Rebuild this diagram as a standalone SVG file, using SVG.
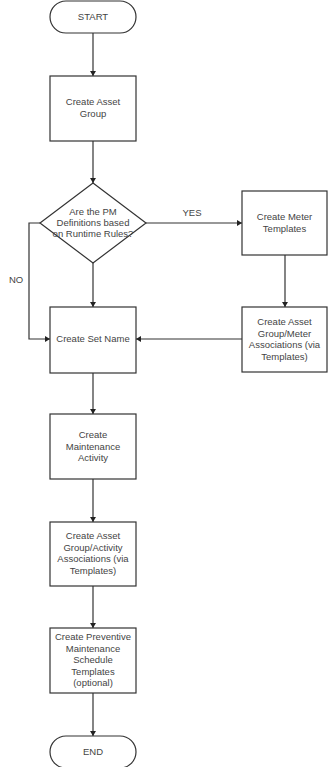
<svg xmlns="http://www.w3.org/2000/svg" width="328" height="767" viewBox="0 0 328 767">
<style>
.box{fill:#fff;stroke:#333;stroke-width:1.2}
.t{font-family:"Liberation Sans",Arial,sans-serif;font-size:9.5px;fill:#444;text-anchor:middle}
.c{fill:none;stroke:#333;stroke-width:1.2}
</style>
<defs>
<marker id="ah" markerWidth="6" markerHeight="6" refX="5" refY="3" orient="auto" markerUnits="userSpaceOnUse">
<path d="M0,0 L5,3 L0,6 Z" fill="#222"/>
</marker>
</defs>
<rect width="328" height="767" fill="#fff"/>
<g id="connectors">
<path class="c" d="M93,33 V76" marker-end="url(#ah)"/>
<path class="c" d="M93,141 V183" marker-end="url(#ah)"/>
<path class="c" d="M146,223 H242" marker-end="url(#ah)"/>
<path class="c" d="M285,255 V307" marker-end="url(#ah)"/>
<path class="c" d="M242,339 H136" marker-end="url(#ah)"/>
<path class="c" d="M93,263 V307" marker-end="url(#ah)"/>
<path class="c" d="M40,223 H29 V339 H50" marker-end="url(#ah)"/>
<path class="c" d="M93,373 V414" marker-end="url(#ah)"/>
<path class="c" d="M93,479 V522" marker-end="url(#ah)"/>
<path class="c" d="M93,586 V628" marker-end="url(#ah)"/>
<path class="c" d="M93,693 V736" marker-end="url(#ah)"/>
<text class="t" x="192" y="216">YES</text>
<text class="t" x="16" y="283">NO</text>
</g>
<g id="start">
<rect class="box" x="50" y="1" width="86" height="32" rx="16"/>
<text class="t" x="93" y="20">START</text>
</g>
<g id="asset-group">
<rect class="box" x="50" y="76" width="86" height="65"/>
<text class="t" x="93" y="105">Create Asset</text>
<text class="t" x="93" y="117">Group</text>
</g>
<g id="decision">
<polygon class="box" points="93,183 146,223 93,263 40,223"/>
<text class="t" x="93" y="215">Are the PM</text>
<text class="t" x="93" y="226">Definitions based</text>
<text class="t" x="93" y="237">on Runtime Rules?</text>
</g>
<g id="meter-templates">
<rect class="box" x="242" y="191" width="85" height="64"/>
<text class="t" x="284.5" y="220">Create Meter</text>
<text class="t" x="284.5" y="232">Templates</text>
</g>
<g id="meter-assoc">
<rect class="box" x="242" y="307" width="85" height="65"/>
<text class="t" x="284.5" y="325">Create Asset</text>
<text class="t" x="284.5" y="336.5">Group/Meter</text>
<text class="t" x="284.5" y="348">Associations (via</text>
<text class="t" x="284.5" y="359.5">Templates)</text>
</g>
<g id="set-name">
<rect class="box" x="50" y="307" width="86" height="66"/>
<text class="t" x="93" y="342">Create Set Name</text>
</g>
<g id="maint-activity">
<rect class="box" x="50" y="414" width="86" height="65"/>
<text class="t" x="93" y="438">Create</text>
<text class="t" x="93" y="449.5">Maintenance</text>
<text class="t" x="93" y="461">Activity</text>
</g>
<g id="activity-assoc">
<rect class="box" x="50" y="522" width="86" height="64"/>
<text class="t" x="93" y="539">Create Asset</text>
<text class="t" x="93" y="550.5">Group/Activity</text>
<text class="t" x="93" y="562">Associations (via</text>
<text class="t" x="93" y="573.5">Templates)</text>
</g>
<g id="pm-schedule">
<rect class="box" x="50" y="628" width="86" height="65"/>
<text class="t" x="93" y="640">Create Preventive</text>
<text class="t" x="93" y="651.5">Maintenance</text>
<text class="t" x="93" y="663">Schedule</text>
<text class="t" x="93" y="674.5">Templates</text>
<text class="t" x="93" y="686">(optional)</text>
</g>
<g id="end">
<rect class="box" x="50" y="736" width="86" height="32" rx="16"/>
<text class="t" x="93" y="755">END</text>
</g>
</svg>
